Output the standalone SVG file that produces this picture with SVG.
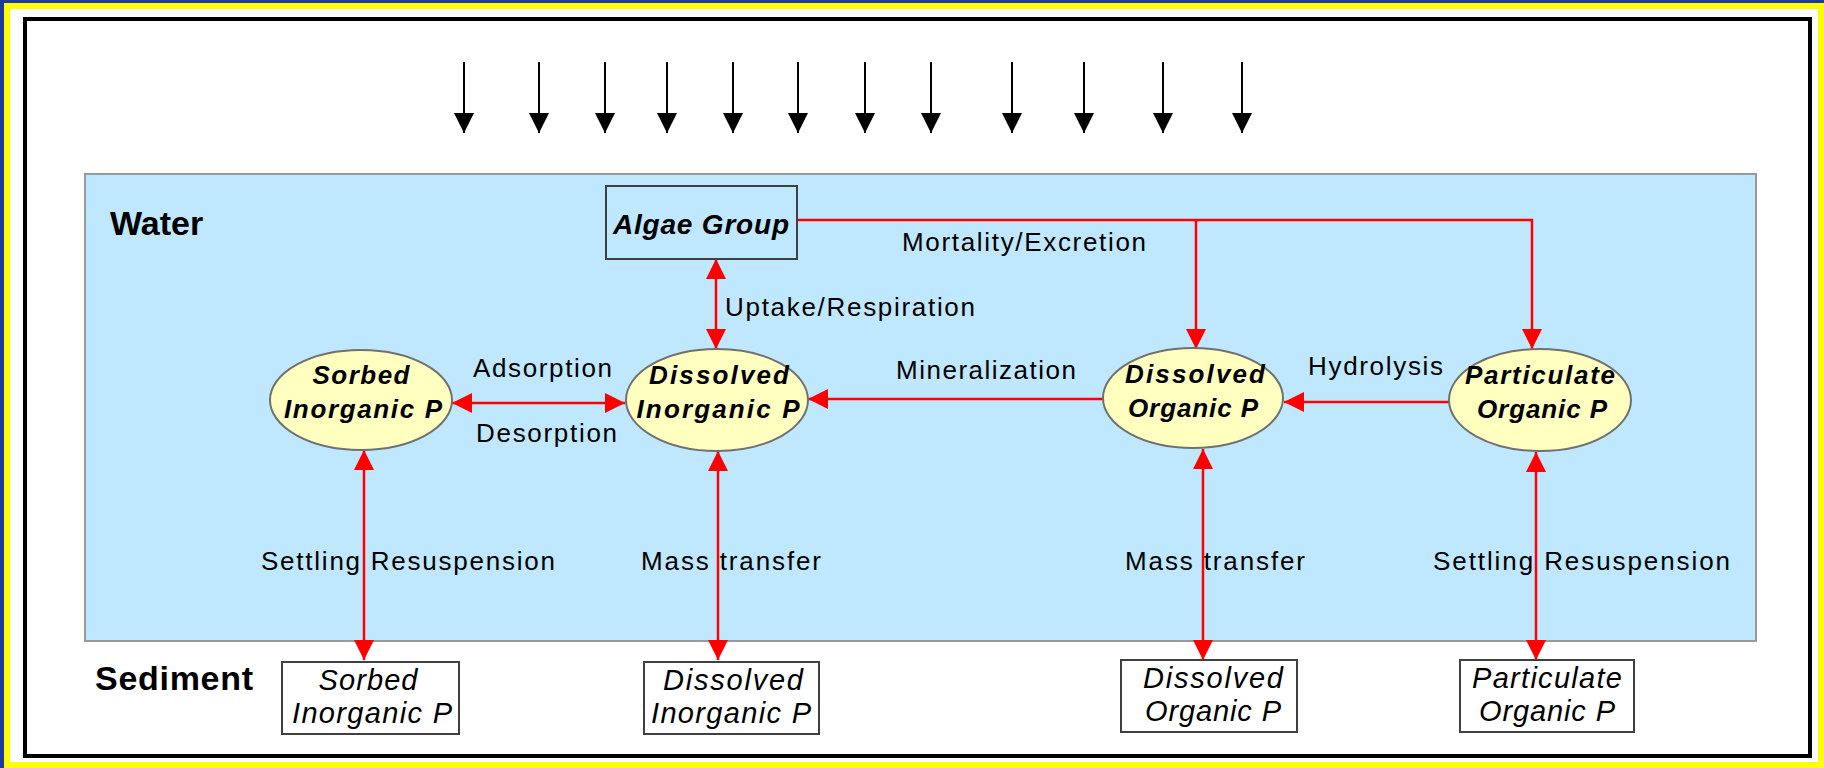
<svg xmlns="http://www.w3.org/2000/svg" width="1824" height="768" viewBox="0 0 1824 768">
<defs>
<style>
.lbl{font-family:"Liberation Sans",Arial,sans-serif;font-size:26px;fill:#000}
.big{font-family:"Liberation Sans",Arial,sans-serif;font-size:34px;font-weight:bold;fill:#000}
.ell{fill:#FFFFC0;stroke:#707070;stroke-width:2}
.etx{font-family:"Liberation Sans",Arial,sans-serif;font-size:26px;font-weight:bold;font-style:italic;fill:#000;text-anchor:middle}
.box{fill:#fff;stroke:#404040;stroke-width:2}
.btx{font-family:"Liberation Sans",Arial,sans-serif;font-size:29px;font-style:italic;fill:#000;text-anchor:middle}
.red{stroke:#FF0000;stroke-width:2.5;fill:none}
.blk{stroke:#000;stroke-width:2;fill:none}
</style>
<marker id="ra" viewBox="0 0 20 20" refX="20" refY="10" markerWidth="20" markerHeight="20" markerUnits="userSpaceOnUse" orient="auto-start-reverse">
<path d="M0,0 L20,10 L0,20 Z" fill="#FF0000"/>
</marker>
<marker id="ba" viewBox="0 0 20 20" refX="20" refY="10" markerWidth="20" markerHeight="20" markerUnits="userSpaceOnUse" orient="auto">
<path d="M0,0 L20,10 L0,20 Z" fill="#000"/>
</marker>
</defs>

<rect x="0" y="0" width="1824" height="768" fill="#1E3A9A"/>
<rect x="4" y="3" width="1820" height="765" fill="#FFFF00"/>
<rect x="10" y="9" width="1808" height="753" fill="#FFFFFF"/>
<rect x="25" y="19" width="1785" height="737" fill="none" stroke="#000" stroke-width="4"/>

<rect x="85" y="174" width="1671" height="467" fill="#BFE7FD" stroke="#999" stroke-width="2"/>

<text class="big" x="110" y="235">Water</text>
<text class="big" x="95" y="690" textLength="158">Sediment</text>

<g id="sun-arrows">
<line class="blk" x1="464" y1="62" x2="464" y2="133" marker-end="url(#ba)"/>
<line class="blk" x1="539" y1="62" x2="539" y2="133" marker-end="url(#ba)"/>
<line class="blk" x1="605" y1="62" x2="605" y2="133" marker-end="url(#ba)"/>
<line class="blk" x1="667" y1="62" x2="667" y2="133" marker-end="url(#ba)"/>
<line class="blk" x1="733" y1="62" x2="733" y2="133" marker-end="url(#ba)"/>
<line class="blk" x1="798" y1="62" x2="798" y2="133" marker-end="url(#ba)"/>
<line class="blk" x1="865" y1="62" x2="865" y2="133" marker-end="url(#ba)"/>
<line class="blk" x1="931" y1="62" x2="931" y2="133" marker-end="url(#ba)"/>
<line class="blk" x1="1012" y1="62" x2="1012" y2="133" marker-end="url(#ba)"/>
<line class="blk" x1="1084" y1="62" x2="1084" y2="133" marker-end="url(#ba)"/>
<line class="blk" x1="1163" y1="62" x2="1163" y2="133" marker-end="url(#ba)"/>
<line class="blk" x1="1242" y1="62" x2="1242" y2="133" marker-end="url(#ba)"/>
</g>

<g id="connectors">
<path class="red" d="M797,220 H1532 V349" marker-end="url(#ra)"/>
<path class="red" d="M1196,220 V349" marker-end="url(#ra)"/>
<line class="red" x1="716" y1="259" x2="716" y2="349" marker-start="url(#ra)" marker-end="url(#ra)"/>
<line class="red" x1="452" y1="403" x2="625" y2="403" marker-start="url(#ra)" marker-end="url(#ra)"/>
<line class="red" x1="1103" y1="399" x2="808" y2="399" marker-end="url(#ra)"/>
<line class="red" x1="1449" y1="402" x2="1284" y2="402" marker-end="url(#ra)"/>
<line class="red" x1="364" y1="450" x2="364" y2="660" marker-start="url(#ra)" marker-end="url(#ra)"/>
<line class="red" x1="718" y1="451" x2="718" y2="660" marker-start="url(#ra)" marker-end="url(#ra)"/>
<line class="red" x1="1203" y1="449" x2="1203" y2="660" marker-start="url(#ra)" marker-end="url(#ra)"/>
<line class="red" x1="1536" y1="452" x2="1536" y2="660" marker-start="url(#ra)" marker-end="url(#ra)"/>
<text class="lbl" x="902" y="251" textLength="244">Mortality/Excretion</text>
<text class="lbl" x="725" y="316" textLength="250">Uptake/Respiration</text>
<text class="lbl" x="473" y="377" textLength="139">Adsorption</text>
<text class="lbl" x="476" y="442" textLength="141">Desorption</text>
<text class="lbl" x="896" y="379" textLength="180">Mineralization</text>
<text class="lbl" x="1308" y="375" textLength="135">Hydrolysis</text>
<text class="lbl" x="261" y="570" textLength="294">Settling Resuspension</text>
<text class="lbl" x="641" y="570" textLength="180">Mass transfer</text>
<text class="lbl" x="1125" y="570" textLength="180">Mass transfer</text>
<text class="lbl" x="1433" y="570" textLength="297">Settling Resuspension</text>
</g>

<g id="algae">
<rect x="606" y="186" width="191" height="73" fill="#BFE7FD" stroke="#404040" stroke-width="2"/>
<text x="701" y="234" textLength="176" style="font-family:'Liberation Sans',Arial,sans-serif;font-size:28px;font-weight:bold;font-style:italic;text-anchor:middle">Algae Group</text>
</g>

<g id="sorbed-inorganic-water">
<ellipse class="ell" cx="361" cy="400" rx="91" ry="50"/>
<text class="etx" x="361" y="384" textLength="97">Sorbed</text>
<text class="etx" x="363" y="418" textLength="158">Inorganic P</text>
</g>
<g id="dissolved-inorganic-water">
<ellipse class="ell" cx="717" cy="400" rx="91" ry="51"/>
<text class="etx" x="719" y="384" textLength="140">Dissolved</text>
<text class="etx" x="718" y="418" textLength="163">Inorganic P</text>
</g>
<g id="dissolved-organic-water">
<ellipse class="ell" cx="1193" cy="398" rx="90" ry="50"/>
<text class="etx" x="1195" y="383" textLength="140">Dissolved</text>
<text class="etx" x="1193" y="417" textLength="130">Organic P</text>
</g>
<g id="particulate-organic-water">
<ellipse class="ell" cx="1540" cy="400" rx="91" ry="51"/>
<text class="etx" x="1540" y="384" textLength="150">Particulate</text>
<text class="etx" x="1542" y="418" textLength="130">Organic P</text>
</g>

<g id="sorbed-inorganic-sediment">
<rect class="box" x="282" y="662" width="177" height="72"/>
<text class="btx" x="368" y="690" textLength="99">Sorbed</text>
<text class="btx" x="372" y="723" textLength="160">Inorganic P</text>
</g>
<g id="dissolved-inorganic-sediment">
<rect class="box" x="644" y="662" width="175" height="72"/>
<text class="btx" x="733" y="690" textLength="140">Dissolved</text>
<text class="btx" x="731" y="723" textLength="160">Inorganic P</text>
</g>
<g id="dissolved-organic-sediment">
<rect class="box" x="1121" y="660" width="176" height="72"/>
<text class="btx" x="1213" y="688" textLength="140">Dissolved</text>
<text class="btx" x="1213" y="721" textLength="136">Organic P</text>
</g>
<g id="particulate-organic-sediment">
<rect class="box" x="1460" y="660" width="174" height="72"/>
<text class="btx" x="1547" y="688" textLength="150">Particulate</text>
<text class="btx" x="1547" y="721" textLength="136">Organic P</text>
</g>
</svg>
